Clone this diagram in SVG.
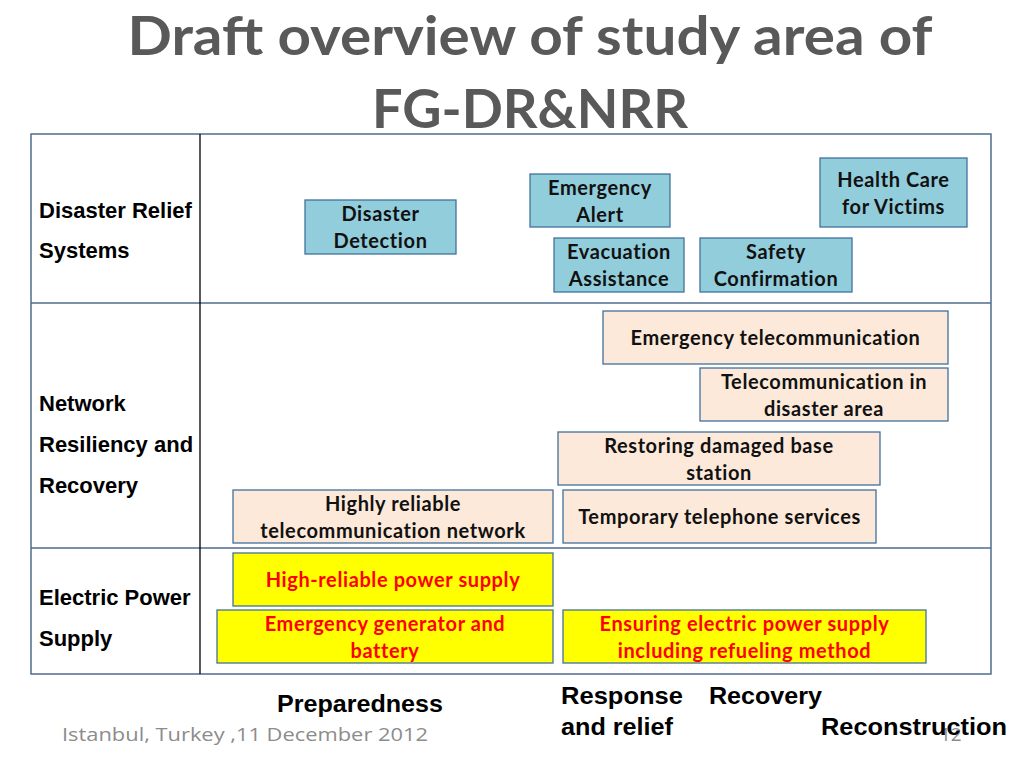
<svg xmlns="http://www.w3.org/2000/svg" width="1024" height="768" viewBox="0 0 1024 768">
<style>
.title{font-family:Lato,"Open Sans",sans-serif;font-weight:bold;font-size:53px;fill:#595959;text-anchor:middle}
.lbl{font-family:"Liberation Sans",Arial,sans-serif;font-weight:bold;font-size:22px;fill:#000}
.phase{font-family:"Liberation Sans",Arial,sans-serif;font-weight:bold;font-size:24px;fill:#000}
.foot{font-family:"Open Sans",sans-serif;font-size:19px;fill:#8c8c8c}
.bt{font-family:Lato,"Open Sans",sans-serif;font-weight:bold;font-size:20px;letter-spacing:0.6px;text-anchor:middle;fill:#111}
.rt{font-family:Lato,"Open Sans",sans-serif;font-weight:bold;font-size:20px;letter-spacing:0.6px;text-anchor:middle;fill:#ff0000}
.blue{fill:#92cddc;stroke:#41719c;stroke-width:1.3}
.peach{fill:#fde9d9;stroke:#41719c;stroke-width:1.3}
.yel{fill:#ffff00;stroke:#41719c;stroke-width:1.3}
.grid{fill:none;stroke:#4f6d8f;stroke-width:1.5}
</style>
<rect width="1024" height="768" fill="#fff"/>
<text class="title" x="530" y="55" textLength="805" lengthAdjust="spacingAndGlyphs">Draft overview of study area of</text>
<text class="title" x="530" y="128" textLength="316" lengthAdjust="spacingAndGlyphs">FG-DR&amp;NRR</text>

<g id="table">
<rect class="grid" x="31" y="134" width="960" height="540"/>
<line class="grid" x1="31" y1="303" x2="991" y2="303"/>
<line class="grid" x1="31" y1="548" x2="991" y2="548"/>
<line x1="200" y1="134" x2="200" y2="674" stroke="#000" stroke-width="1.3"/>
</g>

<g id="row-labels">
<text class="lbl" x="39" y="218">Disaster Relief</text>
<text class="lbl" x="39" y="258">Systems</text>
<text class="lbl" x="39" y="411">Network</text>
<text class="lbl" x="39" y="452">Resiliency and</text>
<text class="lbl" x="39" y="493">Recovery</text>
<text class="lbl" x="39" y="605">Electric Power</text>
<text class="lbl" x="39" y="646">Supply</text>
</g>

<g id="disaster-detection"><rect class="blue" x="305" y="200" width="151" height="54"/><text class="bt" x="380.5" y="221">Disaster</text><text class="bt" x="380.5" y="248">Detection</text></g>
<g id="emergency-alert"><rect class="blue" x="530" y="174" width="140" height="53"/><text class="bt" x="600" y="195">Emergency</text><text class="bt" x="600" y="222">Alert</text></g>
<g id="health-care"><rect class="blue" x="820" y="158" width="147" height="69"/><text class="bt" x="893.5" y="187">Health Care</text><text class="bt" x="893.5" y="214">for  Victims</text></g>
<g id="evacuation"><rect class="blue" x="554" y="238" width="130" height="54"/><text class="bt" x="619" y="259">Evacuation</text><text class="bt" x="619" y="286">Assistance</text></g>
<g id="safety"><rect class="blue" x="700" y="238" width="152" height="54"/><text class="bt" x="776" y="259">Safety</text><text class="bt" x="776" y="286">Confirmation</text></g>

<g id="emergency-telecom"><rect class="peach" x="603" y="311" width="345" height="53"/><text class="bt" x="775.5" y="345">Emergency telecommunication</text></g>
<g id="telecom-disaster-area"><rect class="peach" x="700" y="368" width="248" height="53"/><text class="bt" x="824" y="389">Telecommunication in</text><text class="bt" x="824" y="416">disaster area</text></g>
<g id="restoring-base"><rect class="peach" x="558" y="432" width="322" height="53"/><text class="bt" x="719" y="453">Restoring damaged base</text><text class="bt" x="719" y="480">station</text></g>
<g id="highly-reliable"><rect class="peach" x="233" y="490" width="320" height="53"/><text class="bt" x="393" y="511">Highly reliable</text><text class="bt" x="393" y="538">telecommunication network</text></g>
<g id="temporary-telephone"><rect class="peach" x="563" y="490" width="313" height="53"/><text class="bt" x="719.5" y="524">Temporary telephone services</text></g>

<g id="high-reliable-power"><rect class="yel" x="233" y="553" width="320" height="53"/><text class="rt" x="393" y="587">High-reliable power supply</text></g>
<g id="emergency-generator"><rect class="yel" x="217" y="610" width="336" height="53"/><text class="rt" x="385" y="631">Emergency generator and</text><text class="rt" x="385" y="658">battery</text></g>
<g id="ensuring-power"><rect class="yel" x="563" y="610" width="363" height="53"/><text class="rt" x="744.5" y="631">Ensuring electric power supply</text><text class="rt" x="744.5" y="658">including refueling method</text></g>

<g id="connectors"></g>

<g id="phases">
<text class="phase" x="277" y="712" textLength="166" lengthAdjust="spacingAndGlyphs">Preparedness</text>
<text class="phase" x="561" y="704" textLength="122" lengthAdjust="spacingAndGlyphs">Response</text>
<text class="phase" x="561" y="735" textLength="112" lengthAdjust="spacingAndGlyphs">and relief</text>
<text class="phase" x="709" y="704" textLength="113" lengthAdjust="spacingAndGlyphs">Recovery</text>
<text class="foot" x="940" y="741">12</text>
<text class="phase" x="821" y="735" textLength="186" lengthAdjust="spacingAndGlyphs">Reconstruction</text>
</g>
<text class="foot" x="62" y="741" textLength="366" lengthAdjust="spacingAndGlyphs">Istanbul, Turkey ,11 December 2012</text>
</svg>
